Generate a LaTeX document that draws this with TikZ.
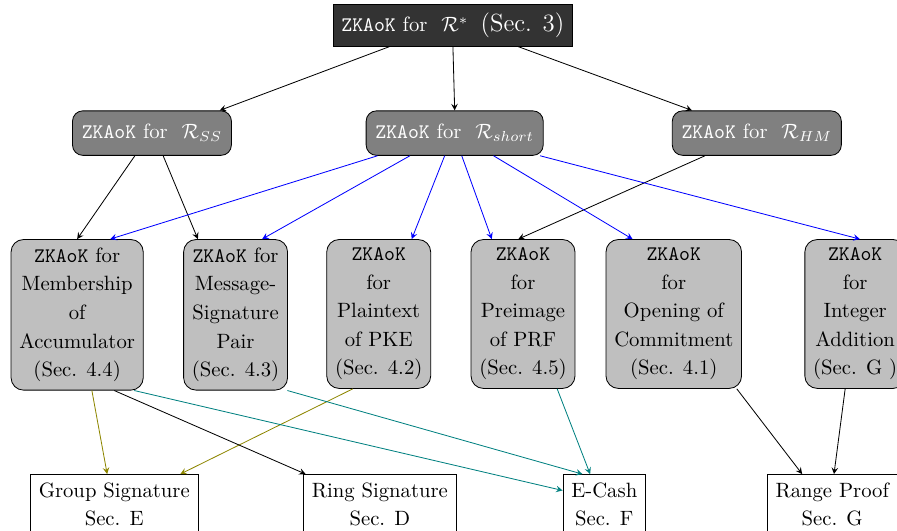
\documentclass[tikz,border=0pt]{standalone}
\usepackage{amssymb}
\usetikzlibrary{positioning}
\usetikzlibrary{calc}

\begin{document}
\begin{tikzpicture}[
  topbox/.style={draw, fill=black!80, text=white, inner sep=4pt},
  relbox/.style={draw, fill=gray, text=white, rounded corners=5pt, inner xsep=4.5pt, minimum height=21.5pt},
  zkbox/.style={draw, fill=lightgray, rounded corners=6pt, inner sep=4pt, align=center, anchor=north,
    font=\fontsize{10}{13.8}\selectfont},
  appbox/.style={draw, fill=white, inner sep=4pt, align=center, anchor=north,
    font=\fontsize{10}{13.8}\selectfont}
]
\useasboundingbox (0,0) rectangle (15.23,-9.015);

\node[topbox](top) at (7.69,-0.43){\texttt{ZKAoK} for~ $\mathcal{R}^*${\large\ \,(Sec. 3)}};
\node[relbox](rss) at ($(top)+(-5.11,-1.83)$){\texttt{ZKAoK} for~ $\mathcal{R}_{SS}$};
\node[relbox](rshort) at ($(top)+(0.03,-1.83)$){\texttt{ZKAoK} for~ $\mathcal{R}_{short}$};
\node[relbox](rhm) at ($(top)+(5.16,-1.83)$){\texttt{ZKAoK} for~ $\mathcal{R}_{HM}$};

\node[zkbox](acc) at (1.31,-4.06){\texttt{ZKAoK} for\\Membership\\of\\Accumulator\\(Sec. 4.4)};
\node[zkbox](msp) at ($(acc.north)+(2.69,0)$){\texttt{ZKAoK} for\\Message-\\Signature\\Pair\\(Sec. 4.3)};
\node[zkbox](pke) at ($(acc.north)+(5.12,0)$){\texttt{ZKAoK}\\for\\Plaintext\\of PKE\\(Sec. 4.2)};
\node[zkbox](prf) at ($(acc.north)+(7.57,0)$){\texttt{ZKAoK}\\for\\Preimage\\of PRF\\(Sec. 4.5)};
\node[zkbox](com) at ($(acc.north)+(10.13,0)$){\texttt{ZKAoK}\\for\\Opening of\\Commitment\\(Sec. 4.1)};
\node[zkbox](intadd) at ($(acc.north)+(13.21,0)$){\texttt{ZKAoK}\\for\\Integer\\Addition\\(Sec. G )};

\node[appbox](grpsig) at (1.94,-8.05){Group Signature\\Sec. E};
\node[appbox](ringsig) at ($(grpsig.north)+(4.51,0)$){Ring Signature\\Sec. D};
\node[appbox](ecash) at ($(grpsig.north)+(8.32,0)$){E-Cash\\Sec. F};
\node[appbox](range) at ($(grpsig.north)+(12.19,0)$){Range Proof\\Sec. G};

\path
([xshift=-1.07cm]top.south) edge[-stealth] ([xshift=1.15cm]rss.north)
(top.south) edge[-stealth] (rshort.north)
([xshift=1.10cm]top.south) edge[-stealth] ([xshift=-1.10cm]rhm.north)
([xshift=-0.29cm]rss.south) edge[-stealth] (acc.north)
([xshift=0.19cm]rss.south) edge[-stealth] ([xshift=-0.64cm]msp.north)
([xshift=-0.88cm]rhm.south) edge[-stealth] ([xshift=-0.08cm]prf.north);

\path[blue]
([xshift=-1.31cm]rshort.south) edge[-stealth] ([xshift=0.56cm]acc.north)
([xshift=-0.76cm]rshort.south) edge[-stealth] ([xshift=0.45cm]msp.north)
([xshift=-0.17cm]rshort.south) edge[-stealth] ([xshift=0.56cm]pke.north)
([xshift=0.12cm]rshort.south) edge[-stealth] ([xshift=-0.53cm]prf.north)
([xshift=0.66cm]rshort.south) edge[-stealth] ([xshift=-0.70cm]com.north)
([xshift=1.45cm]rshort.south) edge[-stealth] ([xshift=0.08cm]intadd.north);

\path[olive]
([xshift=0.25cm]acc.south) edge[-stealth] ([xshift=-0.12cm]grpsig.north)
([xshift=-0.44cm]pke.south) edge[-stealth] ([xshift=1.12cm]grpsig.north);

\path[teal]
([xshift=0.97cm]acc.south) edge[-stealth] ([yshift=0.24cm]ecash.west)
([xshift=0.88cm]msp.south) edge[-stealth] ([xshift=-0.37cm]ecash.north)
([xshift=0.58cm]prf.south) edge[-stealth] ([xshift=-0.24cm]ecash.north);

\path
([xshift=0.63cm]acc.south) edge[-stealth] ([xshift=-1.26cm]ringsig.north)
([xshift=1.07cm]com.south) edge[-stealth] ([xshift=-0.51cm]range.north)
([xshift=-0.17cm]intadd.south) edge[-stealth] ([xshift=0.03cm]range.north);
\end{tikzpicture}
\end{document}
